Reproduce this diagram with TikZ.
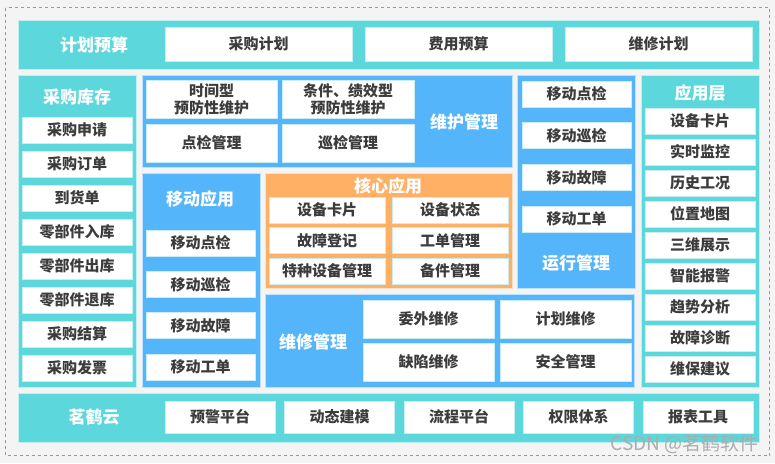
\documentclass[tikz,border=0pt]{standalone}
\usepackage{fontspec}
\setmainfont{Noto Sans CJK SC}
\usepackage{tikz}
\usetikzlibrary{positioning}
\definecolor{cyanbar}{HTML}{5CD8DD}
\definecolor{bluebar}{HTML}{55B5FA}
\definecolor{orangebar}{HTML}{FFB064}
\definecolor{itemtext}{HTML}{3C3C3C}
\definecolor{itemline}{HTML}{C8EEF4}
\definecolor{pagebg}{HTML}{F4F4F4}

\begin{document}
\begin{tikzpicture}[x=1pt,y=-1pt,
  panel/.style={anchor=north west,inner sep=0pt,outer sep=0pt,draw=white!60!#1,line width=0.6pt,fill=#1},
  item/.style={anchor=north west,inner sep=0pt,outer sep=0pt,fill=white,draw=itemline,line width=0.8pt,
    text=itemtext,font=\bfseries\fontsize{15}{17}\selectfont,align=center},
  title/.style={text=white,font=\bfseries\fontsize{17}{20}\selectfont}]
\useasboundingbox[fill=pagebg] (0,0) rectangle (775,463);
\draw[gray!80,dashed,line width=0.6pt] (5.5,7.5) rectangle (769.5,455.5);

\node[panel=cyanbar,minimum width=741,minimum height=49] (p_plan) at (18,20) {};
\node[panel=cyanbar,minimum width=118,minimum height=312] (p_stock) at (18,75) {};
\node[panel=bluebar,minimum width=370,minimum height=92] (p_maint) at (142,75) {};
\node[panel=bluebar,minimum width=118,minimum height=214] (p_mobile) at (142,173) {};
\node[panel=orangebar,minimum width=247,minimum height=115] (p_core) at (265,173) {};
\node[panel=bluebar,minimum width=369,minimum height=93] (p_repair) at (265,294) {};
\node[panel=bluebar,minimum width=118,minimum height=213] (p_run) at (517,75) {};
\node[panel=cyanbar,minimum width=118,minimum height=312] (p_app) at (641,75) {};
\node[panel=cyanbar,minimum width=741,minimum height=49] (p_cloud) at (18,393) {};

\node[title] (t_plan) at (94,45) {计划预算};
\node[title] (t_stock) at (77,97) {采购库存};
\node[title] (t_maint) at (464,122) {维护管理};
\node[title] (t_mobile) at (200,199) {移动应用};
\node[title] (t_core) at (388,186) {核心应用};
\node[title] (t_repair) at (313,342) {维修管理};
\node[title] (t_run) at (576,263) {运行管理};
\node[title] (t_app) at (700,93) {应用层};
\node[title] (t_cloud) at (94,417) {茗鹤云};

\foreach \txt [count=\i from 0] in {采购计划,费用预算,维修计划}
  \node[item,minimum width=187,minimum height=34] (a_\i) at ({165+200*\i},27) {\txt};
\foreach \txt [count=\i from 0] in {采购申请,采购订单,到货单,零部件入库,零部件出库,零部件退库,采购结算,采购发票}
  \node[item,minimum width=110,minimum height=26] (s_\i) at (22,{117+34*\i}) {\txt};
\node[item,minimum width=131,minimum height=38] (m_0) at (146,80) {时间型\\预防性维护};
\node[item,minimum width=132,minimum height=38] (m_1) at (282,80) {条件、绩效型\\预防性维护};
\node[item,minimum width=131,minimum height=38] (m_2) at (146,124) {点检管理};
\node[item,minimum width=132,minimum height=38] (m_3) at (282,124) {巡检管理};
\foreach \txt [count=\i from 0] in {移动点检,移动巡检,移动故障,移动工单}
  \node[item,minimum width=109,minimum height=26] (d_\i) at (146,{230+41.3*\i}) {\txt};
\foreach \txt [count=\i from 0] in {设备卡片,故障登记,特种设备管理}
  \node[item,minimum width=116,minimum height=26] (c_\i) at (269,{197+30.5*\i}) {\txt};
\foreach \txt [count=\i from 0] in {设备状态,工单管理,备件管理}
  \node[item,minimum width=116,minimum height=26] (e_\i) at (392,{197+30.5*\i}) {\txt};
\node[item,minimum width=131,minimum height=38] (r_0) at (363,300) {委外维修};
\node[item,minimum width=131,minimum height=38] (r_1) at (500,300) {计划维修};
\node[item,minimum width=131,minimum height=38] (r_2) at (363,343) {缺陷维修};
\node[item,minimum width=131,minimum height=38] (r_3) at (500,343) {安全管理};
\foreach \txt [count=\i from 0] in {移动点检,移动巡检,移动故障,移动工单}
  \node[item,minimum width=109,minimum height=26] (o_\i) at (522,{81+41.7*\i}) {\txt};
\foreach \txt [count=\i from 0] in {设备卡片,实时监控,历史工况,位置地图,三维展示,智能报警,趋势分析,故障诊断,维保建议}
  \node[item,minimum width=110,minimum height=26] (u_\i) at (645,{108+31*\i}) {\txt};
\foreach \txt [count=\i from 0] in {预警平台,动态建模,流程平台,权限体系,报表工具}
  \node[item,minimum width=110,minimum height=32] (b_\i) at ({165+119.5*\i},401) {\txt};

\node[text=gray!65,inner sep=0pt,font=\fontsize{19}{21}\selectfont,anchor=east] (w_mark) at (759,444) {CSDN @茗鹤软件};
\end{tikzpicture}
\end{document}
